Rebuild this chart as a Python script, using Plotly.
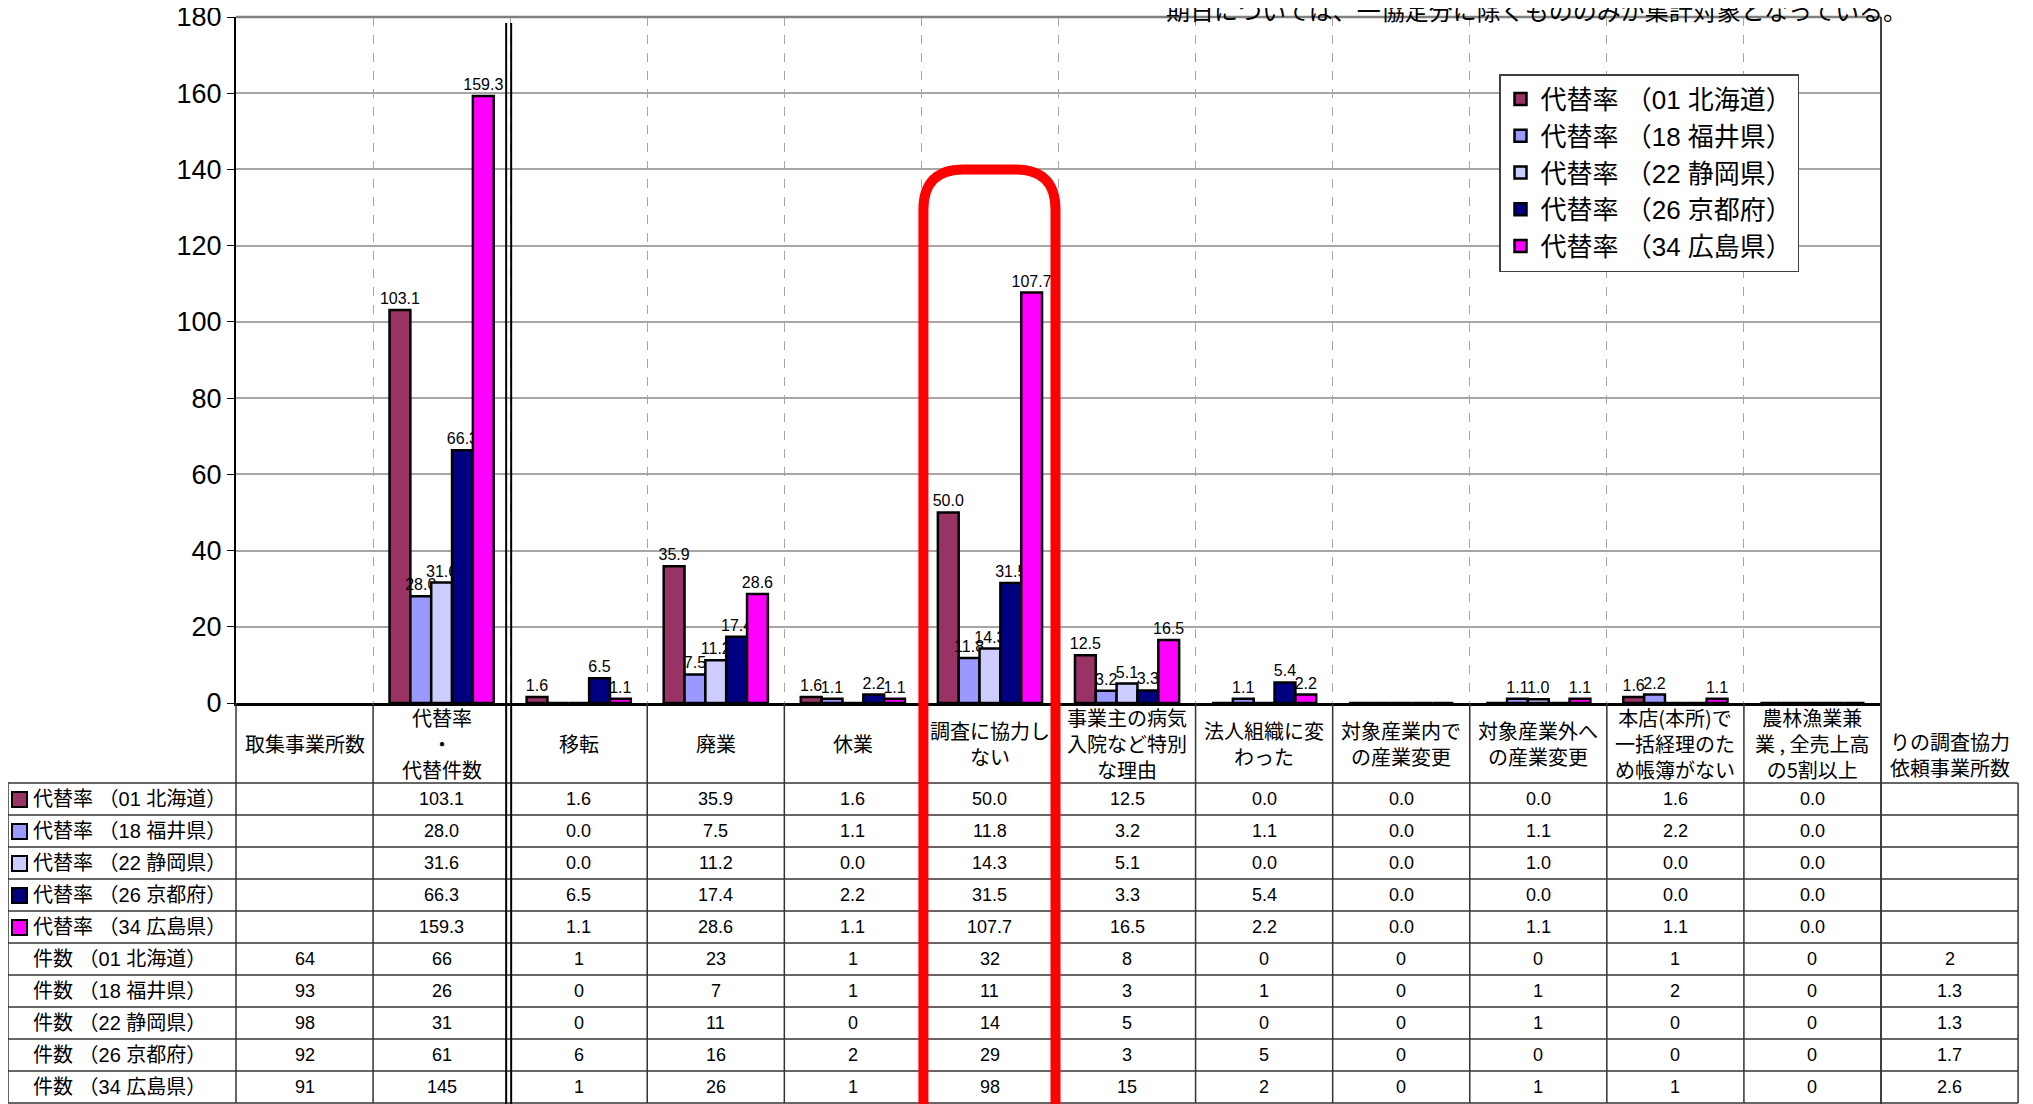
import plotly.graph_objects as go

# ---------------- data ----------------
categories = ["取集事業所数", "代替率・代替件数", "移転", "廃業", "休業", "調査に協力しない",
              "事業主の病気入院など特別な理由", "法人組織に変わった", "対象産業内での産業変更",
              "対象産業外への産業変更", "本店(本所)で一括経理のため帳簿がない",
              "農林漁業兼業,全売上高の5割以上"]
header_labels = ["取集事業所数", "代替率<br>・<br>代替件数", "移転", "廃業", "休業",
                 "調査に協力し<br>ない", "事業主の病気<br>入院など特別<br>な理由",
                 "法人組織に変<br>わった", "対象産業内で<br>の産業変更", "対象産業外へ<br>の産業変更",
                 "本店(本所)で<br>一括経理のた<br>め帳簿がない", "農林漁業兼<br>業 , 全売上高<br>の5割以上",
                 "りの調査協力<br>依頼事業所数"]
prefectures = ["01 北海道", "18 福井県", "22 静岡県", "26 京都府", "34 広島県"]
colors = ["#993366", "#9999FF", "#CCCCFF", "#000080", "#FF00FF"]

# 代替率 (categories 2..12, i.e. without 取集事業所数)
rate_hokkaido = [103.1, 1.6, 35.9, 1.6, 50.0, 12.5, 0.0, 0.0, 0.0, 1.6, 0.0]
rate_fukui = [28.0, 0.0, 7.5, 1.1, 11.8, 3.2, 1.1, 0.0, 1.1, 2.2, 0.0]
rate_shizuoka = [31.6, 0.0, 11.2, 0.0, 14.3, 5.1, 0.0, 0.0, 1.0, 0.0, 0.0]
rate_kyoto = [66.3, 6.5, 17.4, 2.2, 31.5, 3.3, 5.4, 0.0, 0.0, 0.0, 0.0]
rate_hiroshima = [159.3, 1.1, 28.6, 1.1, 107.7, 16.5, 2.2, 0.0, 1.1, 1.1, 0.0]

# 件数
sites = [64, 93, 98, 92, 91]
count_hokkaido = [66, 1, 23, 1, 32, 8, 0, 0, 0, 1, 0]
count_fukui = [26, 0, 7, 1, 11, 3, 1, 0, 1, 2, 0]
count_shizuoka = [31, 0, 11, 0, 14, 5, 0, 0, 1, 0, 0]
count_kyoto = [61, 6, 16, 2, 29, 3, 5, 0, 0, 0, 0]
count_hiroshima = [145, 1, 26, 1, 98, 15, 2, 0, 1, 1, 0]
requests_per_site = ["2", "1.3", "1.3", "1.7", "2.6"]

y_ticks = [0, 20, 40, 60, 80, 100, 120, 140, 160, 180]
highlight_category = "調査に協力しない"
highlight_top = 140

rates = [rate_hokkaido, rate_fukui, rate_shizuoka, rate_kyoto, rate_hiroshima]
counts = [count_hokkaido, count_fukui, count_shizuoka, count_kyoto, count_hiroshima]

# ---------------- layout geometry (screen pixels) ----------------
SCREEN_W, SCREEN_H = 2033, 1104
OFF = 8                       # default body margin of the html page
FIG_W, FIG_H = SCREEN_W - OFF, SCREEN_H - OFF
L, R, T, B = 236, 1881, 17, 703
PW, PH = R - L, B - T
NCAT = len(categories)
COL_W = PW / NCAT
HDR_BOT = 783
ROW_H = 32
TABLE_L = 8
TABLE_R = L + COL_W * (NCAT + 1)


def xp(px):
    return (px - L) / PW


def yp(py):
    return (B - py) / PH


FONT = "Liberation Sans, Noto Sans CJK JP, sans-serif"
CJK = "Noto Sans CJK JP, Liberation Sans, sans-serif"

fig = go.Figure()
for name, col, vals in zip(prefectures, colors, rates):
    y = [None] + vals
    txt = [""] + [f"{v:.1f}" if v else "" for v in vals]
    fig.add_trace(go.Bar(
        x=categories, y=y, name=f"代替率 （{name}）",
        marker=dict(color=col, line=dict(color="black", width=2.5)),
        text=txt, textposition="outside", cliponaxis=False, constraintext="none",
        textfont=dict(size=16, color="black", family=FONT),
    ))

fig.update_layout(
    width=FIG_W, height=FIG_H,
    margin=dict(l=L - OFF, r=SCREEN_W - R, t=T - OFF, b=SCREEN_H - B, pad=0, autoexpand=False),
    paper_bgcolor="white", plot_bgcolor="white",
    barmode="group", bargap=0.24, bargroupgap=0,
    font=dict(family=FONT, color="black"),
    showlegend=True,
    legend=dict(x=xp(1499), y=yp(74), xanchor="left", yanchor="top",
                bgcolor="white", bordercolor="#404040", borderwidth=1.5,
                font=dict(size=26, family=FONT), itemwidth=30, tracegroupgap=0),
    xaxis=dict(type="category", categoryorder="array", categoryarray=categories,
               range=[-0.5, NCAT - 0.5], tickson="boundaries", showgrid=True,
               griddash="dash", gridcolor="#A6A6A6", gridwidth=1.3,
               showticklabels=False, ticks="", showline=True, linecolor="black",
               linewidth=2.5, zeroline=False, fixedrange=True, automargin=False),
    yaxis=dict(range=[0, 180], tickvals=y_ticks, showgrid=True, gridcolor="#A6A6A6",
               gridwidth=1.5, showline=True, linecolor="black", linewidth=2,
               ticks="outside", ticklen=7, tickcolor="black",
               tickfont=dict(size=27, family="Liberation Sans Narrow, Liberation Sans"),
               ticklabeloverflow="allow",
               zeroline=False, fixedrange=True, automargin=False),
)

shapes = []
line_col = "#333333"
# plot top and right borders
shapes.append(dict(type="line", xref="paper", yref="paper", x0=0, x1=1, y0=1, y1=1,
                   line=dict(color="#808080", width=2.5)))
shapes.append(dict(type="line", xref="paper", yref="paper", x0=1, x1=1, y0=1, y1=yp(SCREEN_H),
                   line=dict(color="#404040", width=2)))
# table horizontal lines
for i in range(11):
    yy = HDR_BOT + ROW_H * i
    shapes.append(dict(type="line", xref="paper", yref="paper",
                       x0=xp(TABLE_L), x1=xp(TABLE_R), y0=yp(yy), y1=yp(yy),
                       line=dict(color=line_col, width=1.5)))
# table vertical lines
shapes.append(dict(type="line", xref="paper", yref="paper", x0=xp(TABLE_L), x1=xp(TABLE_L),
                   y0=yp(HDR_BOT), y1=yp(HDR_BOT + ROW_H * 10), line=dict(color=line_col, width=1.5)))
shapes.append(dict(type="line", xref="paper", yref="paper", x0=0, x1=0,
                   y0=0, y1=yp(HDR_BOT + ROW_H * 10), line=dict(color=line_col, width=1.5)))
for k in range(1, NCAT):
    if k == 2:
        continue
    xx = xp(L + COL_W * k)
    shapes.append(dict(type="line", xref="paper", yref="paper", x0=xx, x1=xx,
                       y0=0, y1=yp(HDR_BOT + ROW_H * 10), line=dict(color=line_col, width=1.5)))
shapes.append(dict(type="line", xref="paper", yref="paper", x0=xp(TABLE_R), x1=xp(TABLE_R),
                   y0=yp(HDR_BOT), y1=yp(HDR_BOT + ROW_H * 10), line=dict(color=line_col, width=1.5)))
# double separator line
sep = L + COL_W * 2
for dx in (-4, 1):
    shapes.append(dict(type="line", xref="paper", yref="paper", x0=xp(sep + dx), x1=xp(sep + dx),
                       y0=yp(T + 6), y1=yp(SCREEN_H + 5), line=dict(color="black", width=2)))
# colored squares for row labels
for i, col in enumerate(colors):
    cy = HDR_BOT + ROW_H * i + ROW_H / 2
    shapes.append(dict(type="rect", xref="paper", yref="paper",
                       x0=xp(12), x1=xp(27), y0=yp(cy - 7), y1=yp(cy + 8),
                       fillcolor=col, line=dict(color="black", width=2)))
# red highlight box around one category
hi = categories.index(highlight_category)
bx0 = xp(L + COL_W * hi + 2)
bx1 = xp(L + COL_W * (hi + 1) - 3)
by_top = highlight_top / 180
rx = 40 / PW
ry = 40 / PH
ybot = yp(SCREEN_H + 40)
path = (f"M {bx0},{ybot} L {bx0},{by_top - ry} Q {bx0},{by_top} {bx0 + rx},{by_top} "
        f"L {bx1 - rx},{by_top} Q {bx1},{by_top} {bx1},{by_top - ry} L {bx1},{ybot}")
shapes.append(dict(type="path", xref="paper", yref="paper", path=path,
                   line=dict(color="#FF0000", width=10)))
fig.update_layout(shapes=shapes)

ann = []
# header labels
for k, lab in enumerate(header_labels):
    cx = L + COL_W * (k + 0.5)
    cy = (B + HDR_BOT) / 2
    if k == len(header_labels) - 1:
        cy = 754
    ann.append(dict(xref="paper", yref="paper", x=xp(cx), y=yp(cy), text=lab, showarrow=False,
                    xanchor="center", yanchor="middle", font=dict(size=20, family=CJK)))
# row labels and values
for i, name in enumerate(prefectures):
    cy = HDR_BOT + ROW_H * i + ROW_H / 2
    ann.append(dict(xref="paper", yref="paper", x=xp(31), y=yp(cy), text=f"代替率 （{name}）",
                    showarrow=False, xanchor="left", yanchor="middle", font=dict(size=20, family=FONT)))
    for k, v in enumerate(rates[i]):
        ann.append(dict(xref="paper", yref="paper", x=xp(L + COL_W * (k + 1.5)), y=yp(cy),
                        text=f"{v:.1f}", showarrow=False, xanchor="center", yanchor="middle",
                        font=dict(size=18, family=FONT)))
for i, name in enumerate(prefectures):
    cy = HDR_BOT + ROW_H * (i + 5) + ROW_H / 2
    ann.append(dict(xref="paper", yref="paper", x=xp(31), y=yp(cy), text=f"件数 （{name}）",
                    showarrow=False, xanchor="left", yanchor="middle", font=dict(size=20, family=FONT)))
    row = [sites[i]] + counts[i] + [requests_per_site[i]]
    for k, v in enumerate(row):
        ann.append(dict(xref="paper", yref="paper", x=xp(L + COL_W * (k + 0.5)), y=yp(cy),
                        text=str(v), showarrow=False, xanchor="center", yanchor="middle",
                        font=dict(size=18, family=FONT)))
# clipped note at the top
ann.append(dict(xref="paper", yref="paper", x=xp(1536), y=yp(OFF + 1),
                text="期日については、一協定分に除くもののみが集計対象となっている。",
                showarrow=False, xanchor="center", yanchor="middle", font=dict(size=24, family=CJK)))
fig.update_layout(annotations=ann)

fig.write_html("out.html")
